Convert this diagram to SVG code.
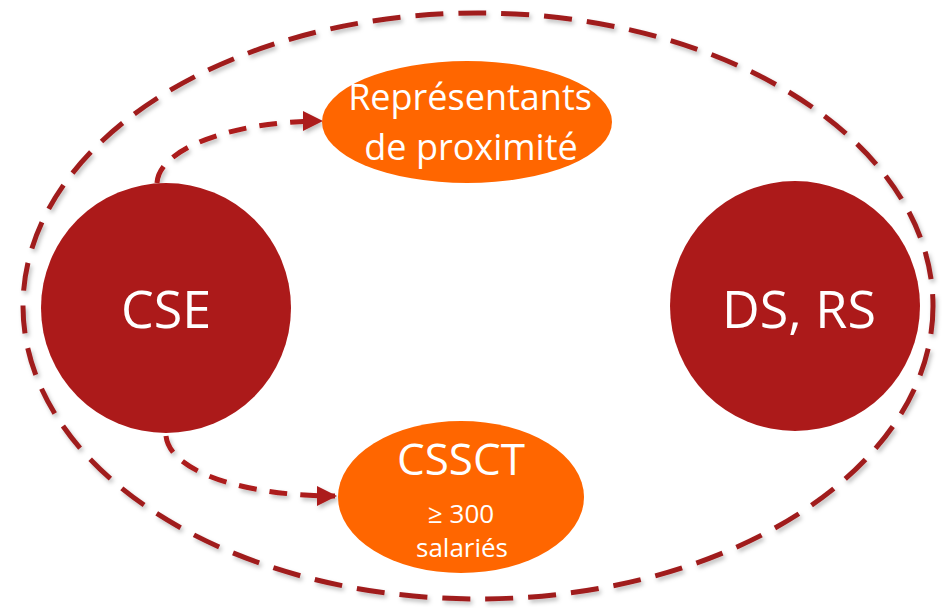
<svg xmlns="http://www.w3.org/2000/svg" width="950" height="608" viewBox="0 0 950 608">
<style>
.big{fill:#AC1A1A}
.small{fill:#FF6600}
.lbl{fill:#fff;font-family:"Open Sans","Liberation Sans",sans-serif;text-anchor:middle}
.ring{fill:none;stroke:#A01C1E;stroke-width:5;stroke-dasharray:28 15}
.conn{fill:none;stroke:#AC1A1A;stroke-width:5;stroke-dasharray:18 13}
</style>
<defs>
<marker id="ah" viewBox="0 0 10 10" refX="9" refY="5" markerWidth="4" markerHeight="4" orient="auto" markerUnits="strokeWidth">
<path d="M0,0 L10,5 L0,10 z" fill="#AC1A1A"/>
</marker>
<filter id="sh" x="-5%" y="-5%" width="110%" height="110%">
<feDropShadow dx="2" dy="3" stdDeviation="2" flood-color="#000" flood-opacity="0.25"/>
</filter>
</defs>
<g id="boundary" filter="url(#sh)">
<ellipse class="ring" cx="478" cy="306" rx="455" ry="293"/>
</g>
<g id="connectors" filter="url(#sh)">
<path class="conn" d="M157,183 C159,148 235,121 321,121" marker-end="url(#ah)"/>
<path class="conn" d="M166,436 C170,472 245,496 335,496" marker-end="url(#ah)"/>
</g>
<g id="cse">
<circle class="big" cx="166" cy="308" r="125"/>
<text class="lbl" x="166" y="328" font-size="52">CSE</text>
</g>
<g id="dsrs">
<circle class="big" cx="795" cy="306" r="125"/>
<text class="lbl" x="799" y="328" font-size="52">DS, RS</text>
</g>
<g id="rp">
<ellipse class="small" cx="467" cy="122" rx="145" ry="61"/>
<text class="lbl" x="470" y="110" font-size="36">Représentants</text>
<text class="lbl" x="471" y="160" font-size="36">de proximité</text>
</g>
<g id="cssct">
<ellipse class="small" cx="461" cy="497" rx="123" ry="76"/>
<text class="lbl" x="461" y="475" font-size="44">CSSCT</text>
<text class="lbl" x="461" y="523" font-size="26">≥ 300</text>
<text class="lbl" x="462" y="557" font-size="26">salariés</text>
</g>
</svg>
